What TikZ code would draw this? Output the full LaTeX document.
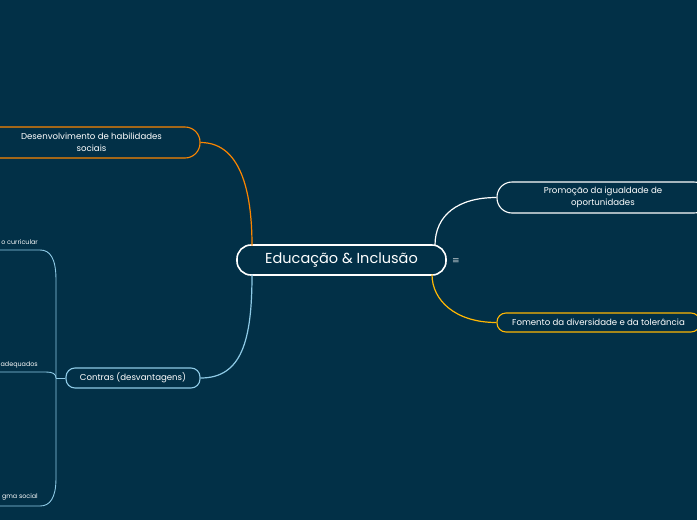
\documentclass[tikz,border=0pt]{standalone}
\usepackage{fontspec}
\setmainfont{Poppins}
\newfontfamily\symfont{DejaVu Sans}
\definecolor{bg}{HTML}{023047}
\definecolor{orng}{HTML}{FB8500}
\definecolor{yell}{HTML}{FFB703}
\definecolor{lblue}{HTML}{8ECAE6}
\begin{document}
\begin{tikzpicture}[x=1pt,y=-1pt,
  topic/.style={draw, line width=1.1pt, rounded corners=#1, text=white, align=center, inner sep=0pt, font=\fontsize{8.6}{12.5}\selectfont},
  link/.style={line width=1.2pt},
  leaf/.style={text=white, inner sep=0pt, anchor=east, font=\fontsize{6.4}{8}\selectfont}]
\fill[bg] (0,0) rectangle (697,520);
\useasboundingbox (0,0) rectangle (697,520);
% central
\node[draw=white, line width=1.6pt, rounded corners=14pt, minimum width=209pt, minimum height=30pt, text=white, inner sep=0pt, font=\fontsize{14.5}{16}\selectfont] (C) at (341.5,260) {Educação \& Inclusão};
\node[text=white!75!bg, font=\symfont\fontsize{9}{10}\selectfont, inner sep=0pt] (M) at (456,261) {≡};
% topics
\node[topic=15pt, draw=orng, minimum width=217pt, minimum height=31pt] (D) at (91.5,142.5) {Desenvolvimento de habilidades\\sociais};
\node[topic=15pt, draw=white, minimum width=212pt, minimum height=31pt] (P) at (603,197.5) {Promoção da igualdade de\\oportunidades};
\node[topic=9pt, draw=yell, minimum width=203pt, minimum height=19pt] (F) at (598.5,322.5) {Fomento da diversidade e da tolerância};
\node[topic=9pt, draw=lblue, minimum width=134pt, minimum height=20pt] (K) at (133,378) {Contras (desvantagens)};
% leaves
\node[leaf] (L1) at (38,242) {o curricular};
\node[leaf] (L2) at (38,365) {adequados};
\node[leaf] (L3) at (38,497) {gma social};
% anchor coordinates
\coordinate (Ctl) at (252,245.5);
\coordinate (Ctr) at (435,245.5);
\coordinate (Cbr) at (432,274.5);
\coordinate (Cbl) at (252,274.5);
\coordinate (B) at (56,378);
\coordinate (U1) at (0,250);
\coordinate (U2) at (0,372);
\coordinate (U3) at (0,506);
% connectors
\draw[link, orng] (D.east) .. controls (244,142.5) and (252,200) .. (Ctl);
\draw[link, white] (Ctr) .. controls (435,215) and (458,197.5) .. (P.west);
\draw[link, yell] (Cbr) .. controls (432,300) and (455,322.5) .. (F.west);
\draw[link, lblue] (Cbl) .. controls (252,340) and (242,378) .. (K.east);
\draw[link, lblue, line width=0.9pt] (K.west) -- (B);
\draw[lblue, line width=0.9pt] (B) -- (56,280) .. controls (56,258) and (50,250) .. (40,250) -- (U1);
\draw[lblue, line width=0.9pt] (B) .. controls (56,374) and (53,372) .. (46,372) -- (U2);
\draw[lblue, line width=0.9pt] (B) -- (56,478) .. controls (56,498) and (50,506) .. (40,506) -- (U3);
\end{tikzpicture}
\end{document}
